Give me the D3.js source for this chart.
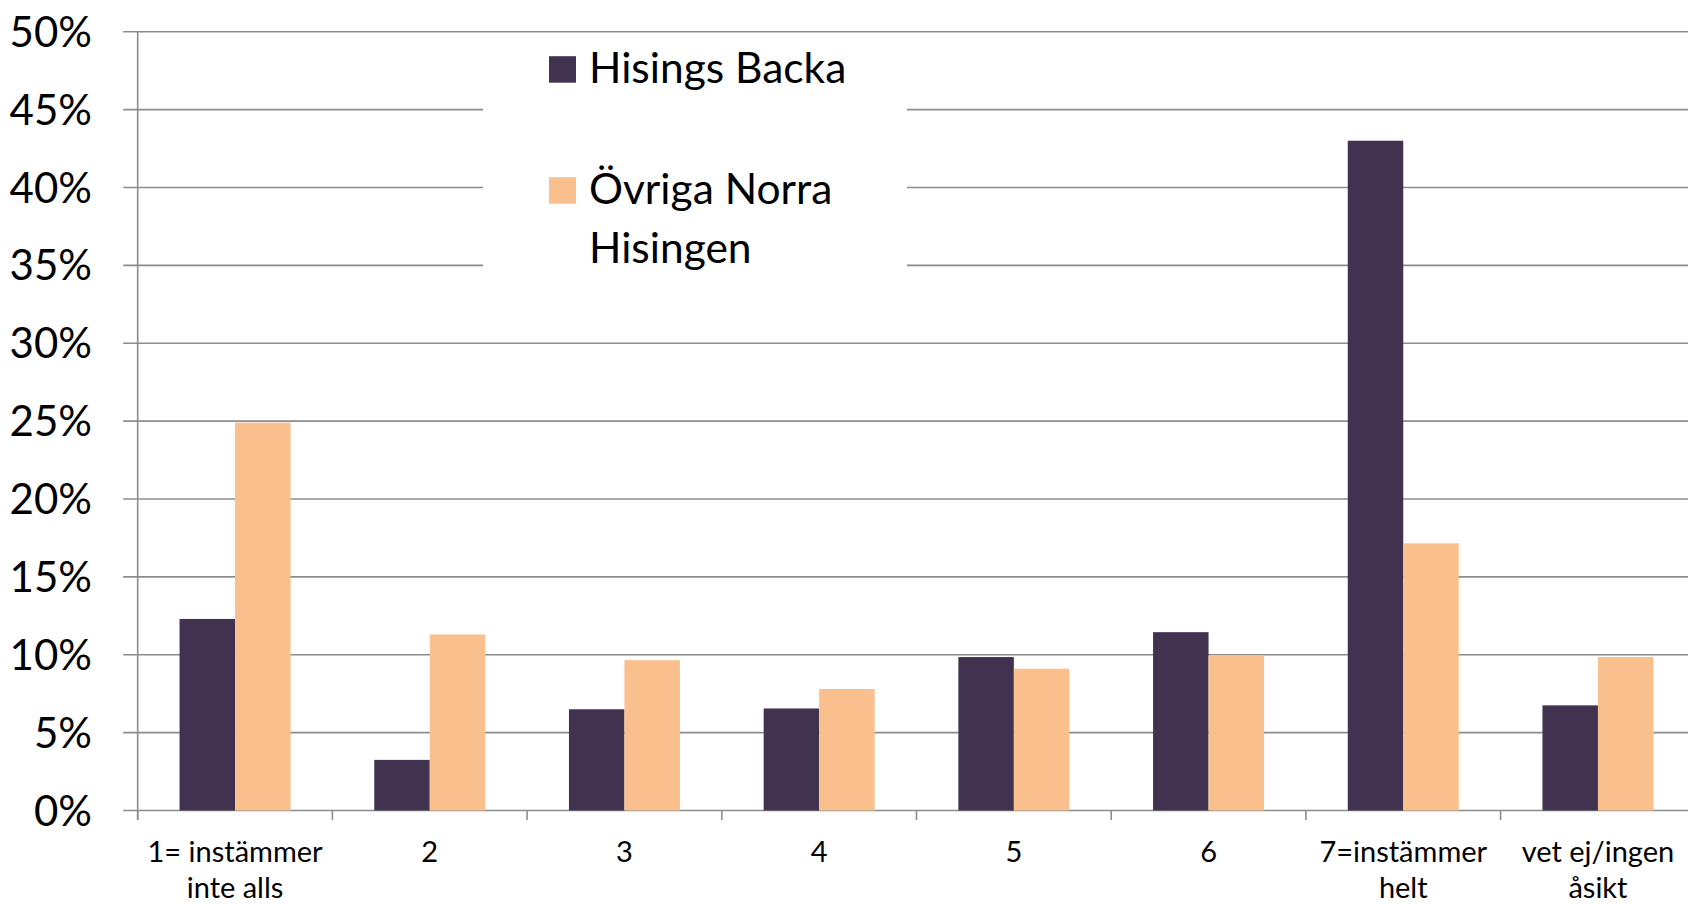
<!DOCTYPE html>
<html>
<head>
<meta charset="utf-8">
<script src="https://cdn.jsdelivr.net/npm/d3@7"></script>
<style>
  html, body { margin: 0; padding: 0; background: #fff; }
  svg { display: block; font-family: Lato, "Open Sans", sans-serif; }
</style>
</head>
<body>
<div id="root"></div>
<script>
const categories = ["1= instämmer\ninte alls", "2", "3", "4", "5", "6", "7=instämmer\nhelt", "vet ej/ingen\nåsikt"]
const seriesNames = ["Hisings Backa", "Övriga Norra\nHisingen"]
const hisingsBacka = [12.3, 3.25, 6.5, 6.55, 9.85, 11.45, 43.0, 6.75]
const ovrigaNorra = [24.9, 11.3, 9.65, 7.8, 9.1, 9.95, 17.15, 9.85]
const yTicks = [0, 5, 10, 15, 20, 25, 30, 35, 40, 45, 50]
const COLOR = ["#41324f", "#f9c08e"]

const width = 1688, height = 904
const margin = {left: 137.7, top: 31.7, bottom: 904 - 810.5}
const step = 194.7

const svg = d3.select('#root').append('svg')
  .attr('width', width)
  .attr('height', height)

const x0 = d3.scaleBand()
  .domain(categories)
  .range([margin.left, margin.left + step * categories.length])
  .paddingInner(0.43)
  .paddingOuter(0.215)

const x1 = d3.scaleBand()
  .domain([0, 1])
  .range([0, x0.bandwidth()])

const y = d3.scaleLinear()
  .domain([0, 50])
  .range([height - margin.bottom, margin.top])

// gridlines + y axis ticks
svg.append('g')
  .attr('class', 'grid')
  .selectAll('line')
  .data(yTicks)
  .enter().append('line')
  .attr('x1', margin.left - 14.5)
  .attr('x2', width)
  .attr('y1', d => y(d))
  .attr('y2', d => y(d))
  .attr('stroke', '#8c8c8c')
  .attr('stroke-width', 1.6)

// bars
const rows = categories.map((c, i) => ({cat: c, vals: [hisingsBacka[i], ovrigaNorra[i]]}))
const groups = svg.append('g').selectAll('g')
  .data(rows)
  .enter().append('g')
  .attr('transform', d => `translate(${x0(d.cat)},0)`)

groups.selectAll('rect')
  .data(d => d.vals)
  .enter().append('rect')
  .attr('x', (d, i) => x1(i))
  .attr('y', d => y(d))
  .attr('width', x1.bandwidth())
  .attr('height', d => y(0) - y(d))
  .attr('fill', (d, i) => COLOR[i])

// y axis line
svg.append('line')
  .attr('x1', margin.left).attr('x2', margin.left)
  .attr('y1', y(50)).attr('y2', y(0) + 9.5)
  .attr('stroke', '#8c8c8c')
  .attr('stroke-width', 1.6)

// x axis ticks at band boundaries
svg.append('g').selectAll('line')
  .data(d3.range(categories.length + 1))
  .enter().append('line')
  .attr('x1', i => margin.left + i * step)
  .attr('x2', i => margin.left + i * step)
  .attr('y1', y(0))
  .attr('y2', y(0) + 9.5)
  .attr('stroke', '#8c8c8c')
  .attr('stroke-width', 1.6)

// y labels
svg.append('g').selectAll('text')
  .data(yTicks)
  .enter().append('text')
  .attr('x', 92)
  .attr('y', d => y(d))
  .attr('dy', '0.36em')
  .attr('text-anchor', 'end')
  .style('font-size', '42px')
  .attr('fill', '#000')
  .text(d => d + '%')

// x labels
const xLab = svg.append('g').selectAll('text')
  .data(categories)
  .enter().append('text')
  .attr('x', d => x0(d) + x0.bandwidth() / 2)
  .attr('y', 861.7)
  .attr('text-anchor', 'middle')
  .style('font-size', '29px')
  .attr('fill', '#000')

xLab.selectAll('tspan')
  .data(d => d.split('\n'))
  .enter().append('tspan')
  .attr('x', function() { return this.parentNode.getAttribute('x') })
  .attr('dy', (d, i) => i ? 36.5 : 0)
  .text(d => d)

// legend
const legend = svg.append('g').attr('class', 'legend')
legend.append('rect')
  .attr('x', 483).attr('y', 40)
  .attr('width', 907 - 483).attr('height', 260)
  .attr('fill', '#fff')

const legendY = [82.7, 203.7]
seriesNames.forEach((name, i) => {
  legend.append('rect')
    .attr('x', 549).attr('y', legendY[i] - 26.5)
    .attr('width', 27).attr('height', 26.5)
    .attr('fill', COLOR[i])
  legend.append('text')
    .attr('x', 589)
    .attr('y', legendY[i])
    .style('font-size', '42.5px')
    .attr('fill', '#000')
    .selectAll('tspan')
    .data(name.split('\n'))
    .enter().append('tspan')
    .attr('x', 589)
    .attr('dy', (d, j) => j ? 59.6 : 0)
    .text(d => d)
})
</script>
</body>
</html>
